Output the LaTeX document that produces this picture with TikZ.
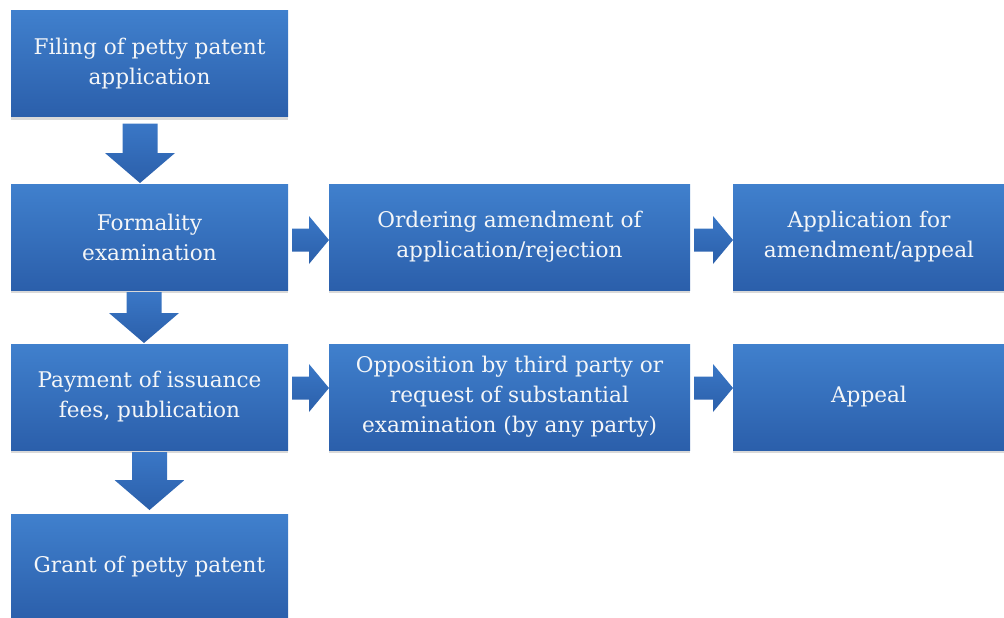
\documentclass[tikz,border=0pt]{standalone}
\usepackage{fontspec}
\setmainfont{DejaVu Serif}
\usepackage{xcolor}
\usetikzlibrary{calc,shadows}

\definecolor{boxtop}{HTML}{4080CD}
\definecolor{boxbot}{HTML}{2B5FAB}
\definecolor{arrtop}{HTML}{3A77C6}
\definecolor{arrbot}{HTML}{2B5FAA}
\definecolor{boxtext}{HTML}{F4F6F8}

\tikzset{
  stage/.style={rectangle, inner sep=0pt, outer sep=0pt, align=center,
    top color=boxtop, bottom color=boxbot, text=boxtext,
    minimum height=79.5pt, font=\fontsize{16.2}{22.5}\selectfont,
    drop shadow={opacity=0.3, shadow xshift=0pt, shadow yshift=-2.5pt}},
  leftstage/.style={stage, minimum width=207.75pt},
  midstage/.style={stage, minimum width=270.75pt},
  rightstage/.style={stage, minimum width=204pt},
  arrowshade/.style={top color=arrtop, bottom color=arrbot}
}

% block arrow going down: from, to, x offset, top gap, bottom gap
\newcommand{\flowdown}[5]{%
  \path[arrowshade] ($(#1.south)+(#3-17.5,#4)$)
    -- ($(#2.north)+(#3-17.5,-30-#5)$) -- ++(-17.5,0)
    -- ($(#2.north)+(#3,-#5)$) -- ++(35,-30) -- ++(-17.5,0)
    -- ($(#1.south)+(#3+17.5,#4)$) -- cycle;}

% block arrow going right: from, to, y offset
\newcommand{\flowright}[3]{%
  \path[arrowshade] ($(#1.east)+(4,#3-11.5)$)
    -- ($(#2.west)+(-20,#3-11.5)$) -- ++(0,-12.5)
    -- ($(#2.west)+(0,#3)$) -- ++(-20,24) -- ++(0,-12.5)
    -- ($(#1.east)+(4,#3+11.5)$) -- cycle;}

\begin{document}
\begin{tikzpicture}[x=0.75pt, y=-0.75pt]
  \useasboundingbox (0,0) rectangle (1004,618);
  \clip (0,0) rectangle (1004,618);

  % Pasos principales (columna izquierda)
  \node[leftstage] (filing) at (149.5,63.5) {Filing of petty patent\\application};
  \node[leftstage] (formality) at (149.5,237) {Formality\\examination};
  \node[leftstage] (payment) at (149.5,397) {Payment of issuance\\fees, publication};
  \node[leftstage] (grant) at (149.5,567) {Grant of petty patent};

  % Ramas
  \node[midstage] (ordering) at (509.5,237) {Ordering amendment of\\application/rejection};
  \node[midstage] (opposition) at (509.5,397) {Opposition by third party or\\request of substantial\\examination (by any party)};
  \node[rightstage] (amend) at (869,237) {Application for\\amendment/appeal};
  \node[rightstage] (appeal) at (869,397) {Appeal};

  % Flechas
  \flowdown{filing}{formality}{-9.5}{7}{1}
  \flowdown{formality}{payment}{-5.5}{2}{1}
  \flowdown{payment}{grant}{0}{2}{4}
  \flowright{formality}{ordering}{3}
  \flowright{ordering}{amend}{3}
  \flowright{payment}{opposition}{-9}
  \flowright{opposition}{appeal}{-9}
\end{tikzpicture}
\end{document}
